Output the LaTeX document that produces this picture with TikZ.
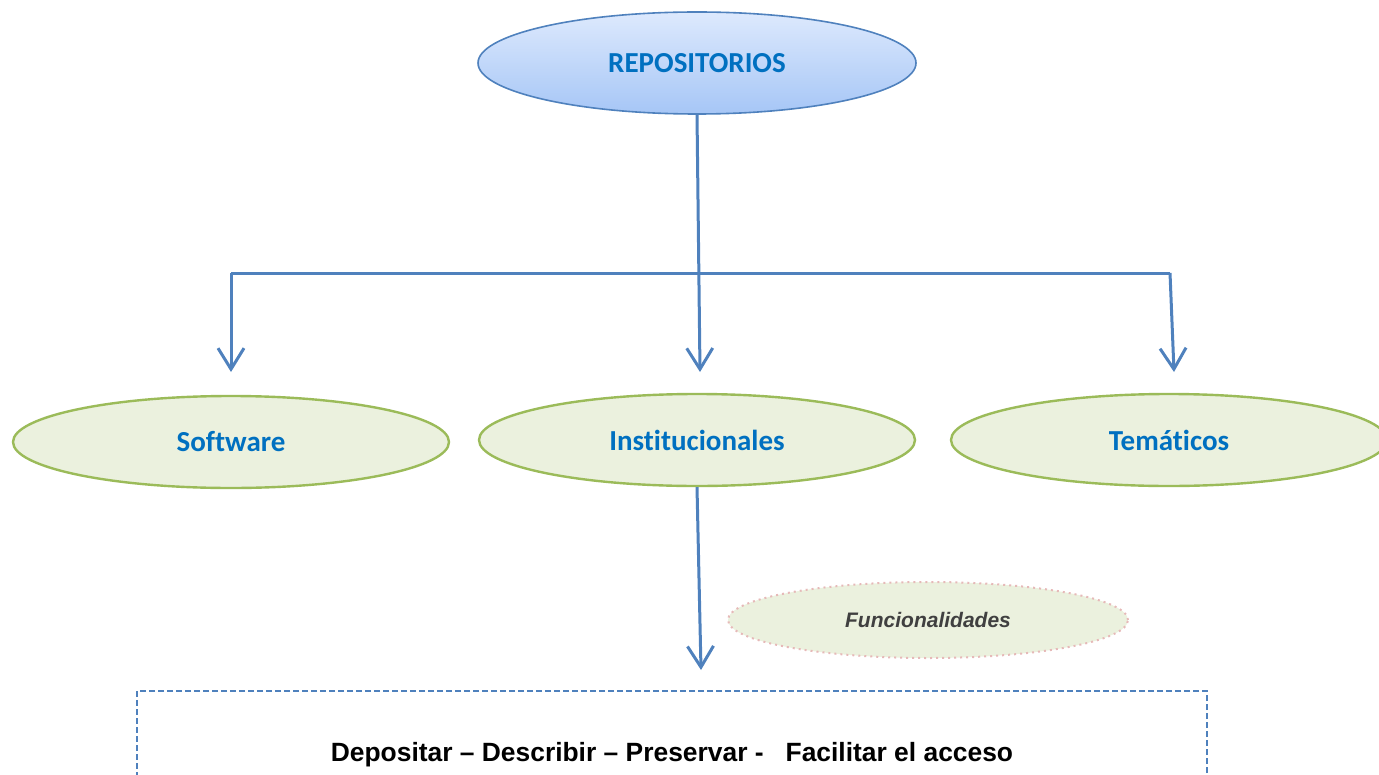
\documentclass[tikz,border=0pt]{standalone}
\usepackage{fontspec}
\setmainfont[Ligatures=NoCommon]{Carlito}
\newfontfamily\arialf{Liberation Sans}
\usetikzlibrary{shapes.geometric,arrows.meta}
\definecolor{linkblue}{HTML}{4F81BD}
\definecolor{txtblue}{HTML}{0070C0}
\definecolor{greenfill}{HTML}{EBF1DE}
\definecolor{greenline}{HTML}{9BBB59}
\definecolor{bluetop}{HTML}{DDE9FD}
\definecolor{bluebot}{HTML}{A6C6F6}
\definecolor{pinkdot}{HTML}{E6B9B8}
\definecolor{darktxt}{HTML}{404040}
\tikzset{
  x=0.5pt, y=-0.5pt,
  catnode/.style={ellipse, draw=greenline, line width=1.2pt, fill=greenfill, inner sep=0pt,
    minimum width=218pt, minimum height=46pt, text=txtblue, font=\fontsize{14.5}{16}\selectfont\bfseries},
  rootnode/.style={ellipse, draw=linkblue, line width=0.8pt, top color=bluetop, bottom color=bluebot, inner sep=0pt,
    minimum width=219pt, minimum height=51pt, text=txtblue, font=\fontsize{14.5}{16}\selectfont\bfseries},
  funcnode/.style={ellipse, draw=pinkdot, dotted, line width=1pt, fill=greenfill, inner sep=0pt,
    minimum width=200pt, minimum height=38pt, text=darktxt, font=\arialf\fontsize{10.5}{12}\selectfont\bfseries\itshape},
  conn/.style={draw=linkblue, line width=1.5pt},
  arr/.style={conn, -{Straight Barb[length=10.5pt,width=13pt,line width=1.5pt]}},
  outbox/.style={rectangle, draw=linkblue, dash pattern=on 3pt off 1.5pt, line width=0.75pt, minimum width=535pt, minimum height=64pt, inner sep=0pt,
    font=\arialf\fontsize{13.2}{15}\selectfont\bfseries}
}
\begin{document}
\begin{tikzpicture}
\useasboundingbox (0,0) rectangle (1379,775);
\node[rootnode] (rep) at (697,63) {REPOSITORIOS};
\node[catnode] (sw) at (231,442) {Software};
\node[catnode] (inst) at (697,440) {Institucionales};
\node[catnode] (tem) at (1169,440) {Temáticos};
\node[funcnode] (func) at (928,620) {Funcionalidades};
\node[outbox] (box) at (672,755) {Depositar – Describir – Preservar -\ \ \ Facilitar el acceso};
% connectors
\coordinate (hl) at (231,273);
\coordinate (hr) at (1170,273);
\coordinate (swtip) at (231,372);
\coordinate (insttip) at (700,372);
\coordinate (temtip) at (1174,372);
\coordinate (boxtip) at (701,670);
\draw[conn] (hl) -- (hr);
\draw[arr] (rep.south) -- (insttip);
\draw[arr] (hl) -- (swtip);
\draw[arr] (hr) -- (temtip);
\draw[arr] (inst.south) -- (boxtip);
\end{tikzpicture}
\end{document}
